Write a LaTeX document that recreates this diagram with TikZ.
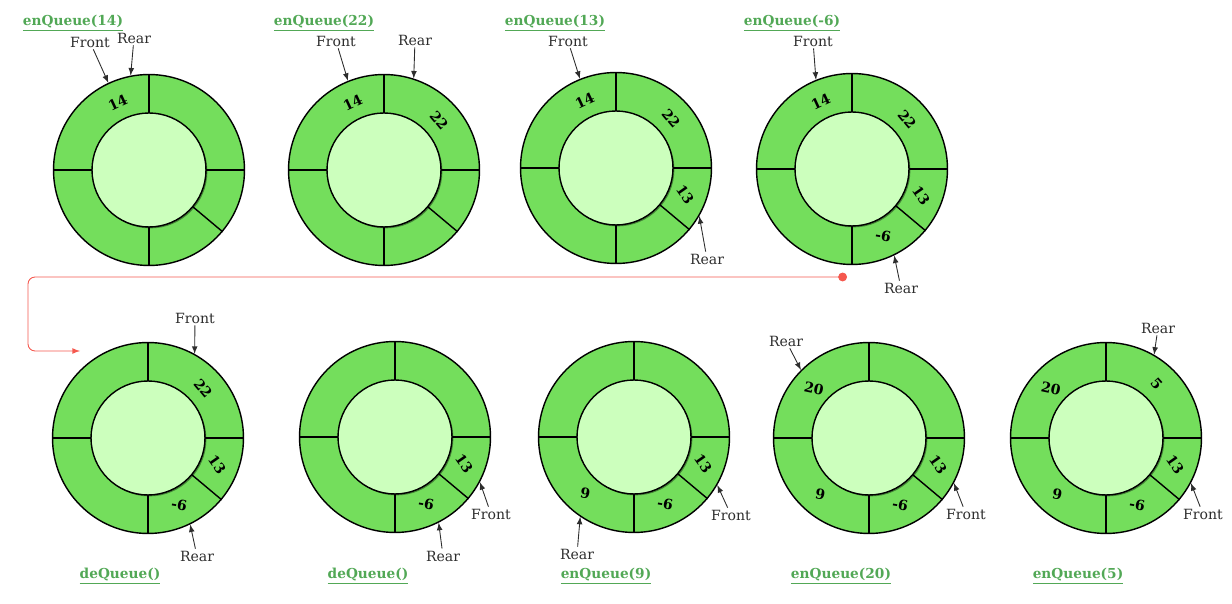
\documentclass[tikz,border=0pt]{standalone}
\usepackage{fontspec}
\setmainfont{DejaVu Serif}
\usepackage{tikz}
\usetikzlibrary{calc,shapes,arrows,shadows}
\definecolor{ringgreen}{RGB}{116,222,92}
\definecolor{hubgreen}{RGB}{204,255,189}
\definecolor{titlegreen}{RGB}{82,168,86}
\definecolor{linkred}{RGB}{245,88,78}
\definecolor{labelgray}{RGB}{45,45,45}

\begin{document}
\begin{tikzpicture}[x=0.02cm,y=-0.02cm,
        ring/.style={circle,draw,line width=0.8pt,fill=ringgreen,minimum size=3.82cm,inner sep=0pt},
        hub/.style={circle,draw,line width=0.8pt,fill=hubgreen,minimum size=2.28cm,inner sep=0pt,
            drop shadow={shadow xshift=0.8pt,shadow yshift=-0.8pt,opacity=0.4,fill=black}},
        op/.style={text=titlegreen,font=\fontsize{7.8}{9}\selectfont\bfseries},
        ptr/.style={text=labelgray,font=\fontsize{8}{9}\selectfont,inner sep=1pt},
        val/.style={font=\fontsize{8}{9}\selectfont\bfseries,inner sep=0pt},
        ptrarrow/.style={-latex,line width=0.5pt,labelgray}]
        \useasboundingbox (0,0) rectangle (1232,604);
        % the nine queue states
        \foreach \n/\x/\y in {1/149/170,2/384/170,3/616/168,4/852/169,
            5/148/438,6/395/437,7/634/437,8/869/438,9/1106/438}
        {
            \node[ring] (r\n) at (\x,\y) {};
            \foreach \a in {90,180,270,320,0}
            \draw[line width=0.8pt] (r\n.center) -- (r\n.\a);
            \node[hub] (h\n) at (r\n) {};
        }
        % stored values
        \foreach \n/\k/\ang/\rot/\t in {1/a/115/25/14,
            2/a/115/25/14, 2/b/42/-50/22,
            3/a/115/25/14, 3/b/42/-50/22, 3/c/-21/-55/13,
            4/a/115/25/14, 4/b/42/-50/22, 4/c/-21/-55/13, 4/d/-65/-10/-6,
            5/b/42/-50/22, 5/c/-21/-55/13, 5/d/-65/-10/-6,
            6/c/-21/-55/13, 6/d/-65/-10/-6,
            7/c/-21/-55/13, 7/d/-65/-10/-6, 7/e/-131/-10/9,
            8/a/138/-12/20, 8/c/-21/-55/13, 8/d/-65/-10/-6, 8/e/-131/-10/9,
            9/a/138/-12/20, 9/b/47/-48/5, 9/c/-21/-55/13, 9/d/-65/-10/-6, 9/e/-131/-10/9}
        \node[val,rotate=\rot] (v\n\k) at ($(r\n.center)!0.77!(r\n.\ang)$) {\t};
        % operations
        \node[op] (op1) at (73,23) {\underline{enQueue(14)}};
        \node[op] (op2) at (324,23) {\underline{enQueue(22)}};
        \node[op] (op3) at (555,23) {\underline{enQueue(13)}};
        \node[op] (op4) at (792,23) {\underline{enQueue(-6)}};
        \node[op] (op5) at (120,576) {\underline{deQueue()}};
        \node[op] (op6) at (368,576) {\underline{deQueue()}};
        \node[op] (op7) at (606,576) {\underline{enQueue(9)}};
        \node[op] (op8) at (841,576) {\underline{enQueue(20)}};
        \node[op] (op9) at (1078,576) {\underline{enQueue(5)}};
        % front and rear pointers
        \node[ptr] (f1) at (90,42) {Front};
        \node[ptr] (e1) at (134,38) {Rear};
        \node[ptr] (f2) at (336,41) {Front};
        \node[ptr] (e2) at (415,40) {Rear};
        \node[ptr] (f3) at (568,41) {Front};
        \node[ptr] (e3) at (707,259) {Rear};
        \node[ptr] (f4) at (813,41) {Front};
        \node[ptr] (e4) at (901,288) {Rear};
        \node[ptr] (f5) at (195,318) {Front};
        \node[ptr] (e5) at (197,556) {Rear};
        \node[ptr] (f6) at (491,514) {Front};
        \node[ptr] (e6) at (443,556) {Rear};
        \node[ptr] (f7) at (731,515) {Front};
        \node[ptr] (e7) at (577,554) {Rear};
        \node[ptr] (f8) at (966,514) {Front};
        \node[ptr] (e8) at (786,341) {Rear};
        \node[ptr] (f9) at (1203,514) {Front};
        \node[ptr] (e9) at (1158,328) {Rear};
        \foreach \n/\fa/\ea in {1/115/101,2/112/72,3/112/-30,4/112/-64,5/61/-64,
            6/-28/-63,7/-30/-124,8/-28/135,9/-28/60}
        {
            \draw[ptrarrow] (f\n) -- (r\n.\fa);
            \draw[ptrarrow] (e\n) -- (r\n.\ea);
        }
        % continue on the second row
        \coordinate (dot) at (847,277);
        \coordinate (bend) at (28,351);
        \coordinate (entry) at (80,351);
        \draw[linkred,line width=0.5pt,rounded corners=4pt,*-latex] (dot) -| (bend) -- (entry);
    \end{tikzpicture}
\end{document}
